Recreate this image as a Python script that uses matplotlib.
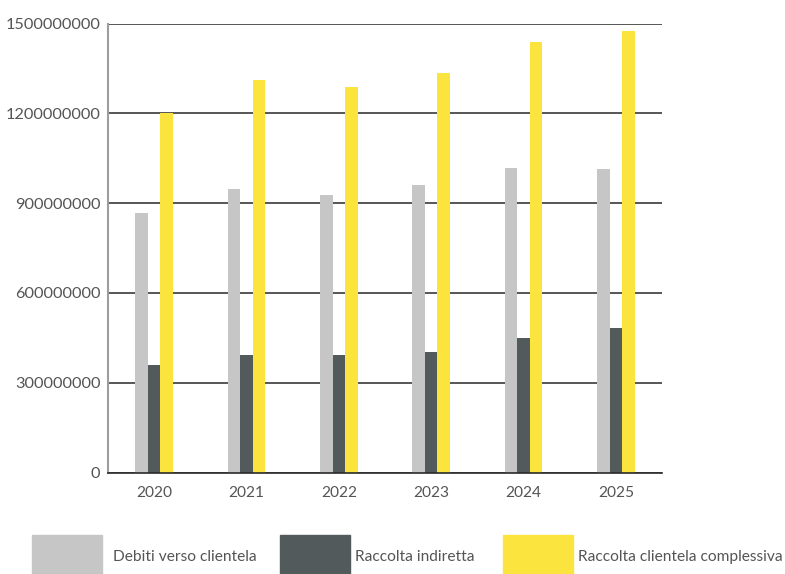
import matplotlib.pyplot as plt
import numpy as np
from matplotlib.patches import Rectangle

plt.rcParams['font.family'] = ['Lato', 'DejaVu Sans']

# Raccolta per anno (euro)
anni = ['2020', '2021', '2022', '2023', '2024', '2025']
debiti_clientela = [868e6, 947e6, 927e6, 960e6, 1019e6, 1016e6]
raccolta_indiretta = [359e6, 392e6, 392e6, 402e6, 451e6, 484e6]
raccolta_complessiva = [1200e6, 1311e6, 1288e6, 1334e6, 1439e6, 1475e6]
serie = ['Debiti verso clientela', 'Raccolta indiretta', 'Raccolta clientela complessiva']
colori = ['#C6C6C6', '#525A5C', '#FCE43F']
y_ticks = [0, 300000000, 600000000, 900000000, 1200000000, 1500000000]

W, H = 785, 574
fig = plt.figure(figsize=(W / 100, H / 100), dpi=100)
ax = fig.add_axes([108 / W, (H - 472.5) / H, (662 - 108) / W, (472.5 - 23.7) / H])

x = np.arange(len(anni))
w = 0.135
for i, vals in enumerate([debiti_clientela, raccolta_indiretta, raccolta_complessiva]):
    ax.bar(x + (i - 1) * w, vals, width=w, color=colori[i], zorder=2)

ax.set_xlim(-0.5, len(anni) - 0.5)
ax.set_ylim(0, 1.5e9)
ax.set_yticks(y_ticks)
ax.set_yticklabels([str(v) for v in y_ticks])
ax.set_xticks(x)
ax.set_xticklabels(anni)
ax.tick_params(axis='both', length=0, labelcolor='#555555')
ax.tick_params(axis='y', pad=5.5, labelsize=11.8)
ax.tick_params(axis='x', pad=10, labelsize=11.2)

ax.yaxis.grid(True, color='#3a3a3a', linewidth=1.2)
ax.set_axisbelow(True)
for s in ['top', 'right']:
    ax.spines[s].set_visible(False)
ax.spines['left'].set_color('#9a9e9e')
ax.spines['left'].set_linewidth(1.5)
ax.spines['bottom'].set_color('#2a2a2a')
ax.spines['bottom'].set_linewidth(1.2)

# legenda a blocchi sotto il grafico
legenda = [(32, 113), (280, 355), (503, 578)]
for (bx, tx), nome, c in zip(legenda, serie, colori):
    fig.patches.append(Rectangle((bx / W, -0.01), 70 / W, (H - 535 + 6) / H,
                                 transform=fig.transFigure, color=c, figure=fig))
    fig.text(tx / W, (H - 557) / H, nome, fontsize=11.2, color='#555555',
             va='center', ha='left')

fig.savefig('out.png', dpi=100)
